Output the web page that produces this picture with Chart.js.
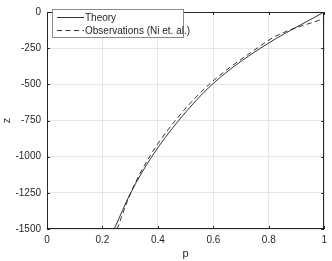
<!DOCTYPE html>
<html><head><meta charset="utf-8">
<script src="https://cdn.jsdelivr.net/npm/chart.js@4/dist/chart.umd.min.js"></script>
<style>html,body{margin:0;padding:0;background:#fff}#wrap{position:relative;width:332px;height:261px}</style>
</head><body><div id="wrap"><canvas id="c" width="332" height="261"></canvas></div>
<script>
const theoryZ = [-1500, -1250, -1000, -750, -500, -250, 0];
const theoryP = [0.2425, 0.302, 0.378, 0.475, 0.596, 0.77, 1.0];
const obsZ = [-1500, -1250, -1000, -750, -500, -250, -167, -45];
const obsP = [0.253, 0.302, 0.37, 0.463, 0.585, 0.758, 0.825, 1.0];
const xTicks = [0, 0.2, 0.4, 0.6, 0.8, 1];
const yTicks = [-1500, -1250, -1000, -750, -500, -250, 0];
const seriesNames = ['Theory', 'Observations (Ni et. al.)'];

const FONT = 'Liberation Sans, Arial, Helvetica, sans-serif';
const AX = '#262626';

const boxPlugin = {
  id: 'box',
  afterDraw(chart) {
    const {ctx, chartArea: a, scales: {x, y}} = chart;
    ctx.save();
    ctx.strokeStyle = AX; ctx.lineWidth = 1;
    ctx.strokeRect(Math.round(a.left) + 0.5, Math.round(a.top) + 0.5, Math.round(a.right - a.left) - 1, Math.round(a.bottom - a.top) - 1);
    const tl = 3;
    ctx.beginPath();
    xTicks.forEach(v => {
      const px = Math.round(x.getPixelForValue(v)) + 0.5;
      ctx.moveTo(px, a.bottom); ctx.lineTo(px, a.bottom - tl);
      ctx.moveTo(px, a.top); ctx.lineTo(px, a.top + tl);
    });
    yTicks.forEach(v => {
      const py = Math.round(y.getPixelForValue(v)) + 0.5;
      ctx.moveTo(a.left, py); ctx.lineTo(a.left + tl, py);
      ctx.moveTo(a.right, py); ctx.lineTo(a.right - tl, py);
    });
    ctx.stroke();
    // legend
    const lx = 52.5, ly = 9.5, lw = 131, lh = 28;
    ctx.fillStyle = '#fff';
    ctx.fillRect(lx, ly, lw, lh);
    ctx.strokeStyle = '#8a8a8a';
    ctx.strokeRect(lx, ly, lw, lh);
    ctx.font = '10px ' + FONT;
    ctx.fillStyle = AX;
    ctx.textBaseline = 'middle';
    const rows = [17.5, 30.5];
    chart.data.datasets.forEach((ds, i) => {
      ctx.strokeStyle = '#000';
      ctx.lineWidth = 0.8;
      ctx.setLineDash(ds.borderDash || []);
      ctx.beginPath();
      ctx.moveTo(57, rows[i]); ctx.lineTo(84, rows[i]);
      ctx.stroke();
      ctx.setLineDash([]);
      ctx.fillText(ds.label, 85, rows[i] + 0.5);
    });
    ctx.restore();
  }
};

new Chart(document.getElementById('c'), {
  type: 'line',
  data: {
    datasets: [
      { label: seriesNames[0], data: theoryP.map((p, i) => ({x: p, y: theoryZ[i]})), borderColor: '#000', borderWidth: 0.8, pointRadius: 0, cubicInterpolationMode: 'monotone' },
      { label: seriesNames[1], data: obsP.map((p, i) => ({x: p, y: obsZ[i]})), borderColor: '#000', borderWidth: 0.8, borderDash: [5, 3.5], pointRadius: 0, cubicInterpolationMode: 'monotone' }
    ]
  },
  options: {
    responsive: false, animation: false, devicePixelRatio: 1,
    layout: { padding: { left: 0, right: 2, top: 5, bottom: 0 } },
    plugins: { legend: { display: false }, tooltip: { enabled: false } },
    scales: {
      x: {
        type: 'linear', min: 0, max: 1,
        afterBuildTicks: s => { s.ticks = xTicks.map(v => ({value: v})); },
        afterFit: s => { s.height = 32; },
        grid: { color: '#e6e6e6', lineWidth: 1, drawTicks: false },
        border: { display: false },
        ticks: { color: AX, font: { family: FONT, size: 10 }, padding: 5, callback: v => String(v) },
        title: { display: true, text: 'p', color: AX, font: { family: FONT, size: 11 }, padding: { top: 0, bottom: 0 } }
      },
      y: {
        type: 'linear', min: -1500, max: 0,
        afterBuildTicks: s => { s.ticks = yTicks.map(v => ({value: v})); },
        afterFit: s => { s.width = 47; },
        grid: { color: '#e6e6e6', lineWidth: 1, drawTicks: false },
        border: { display: false },
        ticks: { color: AX, font: { family: FONT, size: 10 }, padding: 6, callback: v => String(v) },
        title: { display: true, text: 'z', color: AX, font: { family: FONT, size: 11 }, padding: { top: 0, bottom: 0 } }
      }
    }
  },
  plugins: [boxPlugin]
});
</script></body></html>
